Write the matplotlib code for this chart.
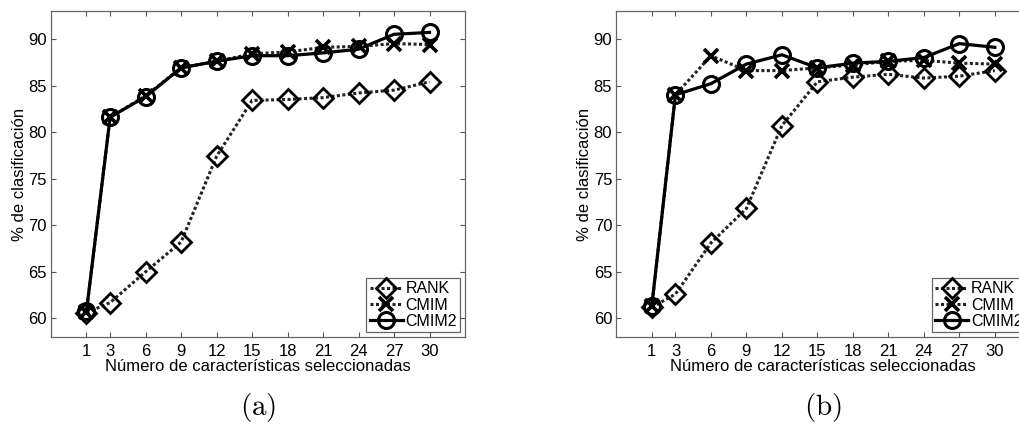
import matplotlib
matplotlib.use("Agg")
import matplotlib.pyplot as plt

plt.rcParams['font.family'] = ['Liberation Sans', 'DejaVu Sans']
plt.rcParams['mathtext.fontset'] = 'cm'

n_features = [1, 3, 6, 9, 12, 15, 18, 21, 24, 27, 30]
x_ticks = [1, 3, 6, 9, 12, 15, 18, 21, 24, 27, 30]
y_ticks = [60, 65, 70, 75, 80, 85, 90]

# Panel (a)
rank_a = [60.6, 61.7, 65.0, 68.2, 77.4, 83.4, 83.5, 83.7, 84.2, 84.5, 85.4]
cmim_a = [60.7, 81.6, 83.9, 86.9, 87.6, 88.4, 88.6, 89.1, 89.2, 89.5, 89.4]
cmim2_a = [60.8, 81.6, 83.8, 86.9, 87.6, 88.2, 88.2, 88.5, 88.9, 90.5, 90.7]

# Panel (b)
rank_b = [61.2, 62.6, 68.1, 71.8, 80.7, 85.4, 85.9, 86.2, 85.8, 86.0, 86.6]
cmim_b = [61.3, 84.0, 88.2, 86.6, 86.6, 86.9, 87.2, 87.6, 87.7, 87.4, 87.3]
cmim2_b = [61.3, 84.0, 85.2, 87.3, 88.3, 86.9, 87.4, 87.6, 88.0, 89.5, 89.1]

series_names = ['RANK', 'CMIM', 'CMIM2']
captions = ['(a)', '(b)']

fig = plt.figure(figsize=(10.19, 4.26), dpi=100)

W, H = 1019.0, 426.0
ax_w, ax_h = 414.0, 326.0
ax_bottom = (H - 337.0) / H
lefts = [51.0, 616.3]

panels = [(rank_a, cmim_a, cmim2_a), (rank_b, cmim_b, cmim2_b)]

dot = (0, (1, 0.8))
for left, (rank, cmim, cmim2), cap in zip(lefts, panels, captions):
    ax = fig.add_axes([left / W, ax_bottom, ax_w / W, ax_h / H])
    ax.plot(n_features, rank, linestyle=dot, color='#222222', lw=2.2,
            marker='D', ms=10.5, mfc='none', mec='black', mew=2.0,
            label=series_names[0])
    ax.plot(n_features, cmim, linestyle=dot, color='#222222', lw=2.2,
            marker='x', ms=10, mec='black', mew=2.6,
            label=series_names[1])
    ax.plot(n_features, cmim2, linestyle='-', color='black', lw=2.3,
            marker='o', ms=11.5, mfc='none', mec='black', mew=2.2,
            label=series_names[2])
    ax.set_xlim(-2, 33)
    ax.set_ylim(58, 93)
    ax.set_xticks(x_ticks)
    ax.set_yticks(y_ticks)
    ax.tick_params(direction='in', length=3.5, width=0.8, color='#555555',
                   top=True, right=True, labelsize=12)
    ax.tick_params(axis='y', pad=3)
    ax.tick_params(axis='x', pad=5)
    for s in ax.spines.values():
        s.set_color('#666666')
        s.set_linewidth(0.9)
    ax.set_xlabel('Número de características seleccionadas', fontsize=12, labelpad=0)
    ax.set_ylabel('% de clasificación', fontsize=12, labelpad=1)
    leg = ax.legend(loc='lower right', fontsize=11.5, handlelength=2.1,
                    handletextpad=0.15, labelspacing=0.08, borderpad=0.2,
                    borderaxespad=0.3, fancybox=False, framealpha=1,
                    numpoints=1)
    leg.get_frame().set_edgecolor('#666666')
    leg.get_frame().set_linewidth(0.9)
    fig.text((left + ax_w / 2) / W, (H - 408.0) / H, r'$\mathrm{' + cap + '}$',
             ha='center', va='center', fontsize=21)

fig.savefig('out.png', dpi=100)
